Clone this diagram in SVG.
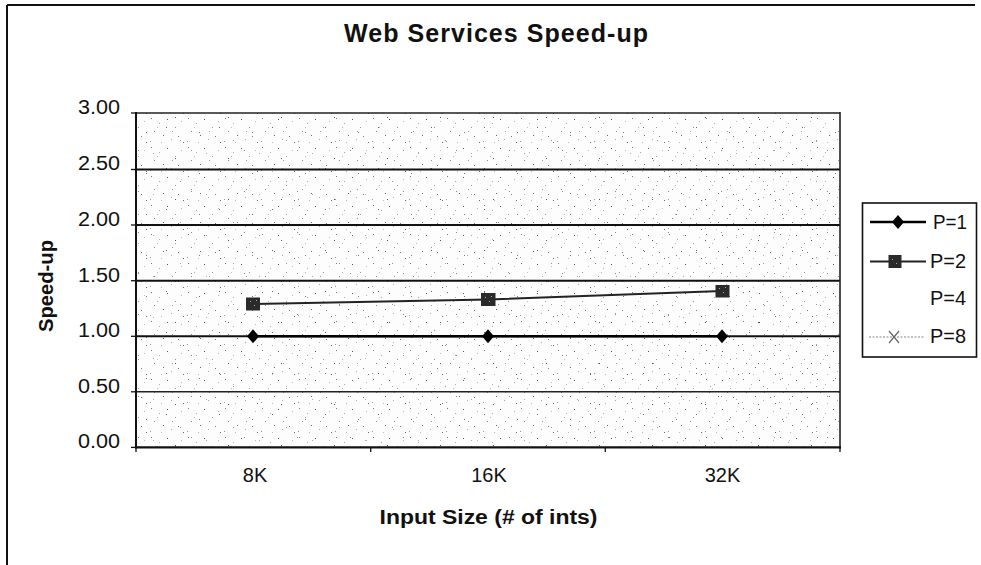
<svg xmlns="http://www.w3.org/2000/svg" width="981" height="565" viewBox="0 0 981 565">
  <style>
    text { font-family: "Liberation Sans", Arial, sans-serif; fill: #111; }
    .title { font-size: 25px; font-weight: bold; }
    .axis-title { font-size: 20px; font-weight: bold; }
    .tick { font-size: 20px; text-anchor: end; }
    .cat { font-size: 20px; text-anchor: middle; }
    .leg { font-size: 20px; }
    .grid { stroke: #111; stroke-width: 2; }
    .grid-thin { stroke: #222; stroke-width: 1.4; }
    .tickmark { stroke: #111; stroke-width: 1.3; }
    .s1 { stroke: #000; stroke-width: 2.6; fill: none; }
    .s2 { stroke: #222; stroke-width: 2; fill: none; }
    .s8 { stroke: #888; stroke-width: 1.2; stroke-dasharray: 2 1.5; fill: none; }
  </style>
  <defs>
    <!-- stippled grey fill of the plot area -->
    <pattern id="stipple" width="37" height="29" patternUnits="userSpaceOnUse">
      <rect width="37" height="29" fill="#fdfdfd"/>
      <rect x="3" y="2" width="1" height="1" fill="#777"/>
      <rect x="11" y="7" width="1" height="1" fill="#aaa"/>
      <rect x="19" y="3" width="1" height="1" fill="#555"/>
      <rect x="27" y="11" width="1" height="1" fill="#999"/>
      <rect x="33" y="5" width="1" height="1" fill="#bbb"/>
      <rect x="6" y="15" width="1" height="1" fill="#888"/>
      <rect x="15" y="19" width="1" height="1" fill="#666"/>
      <rect x="23" y="23" width="1" height="1" fill="#aaa"/>
      <rect x="30" y="20" width="1" height="1" fill="#777"/>
      <rect x="2" y="25" width="1" height="1" fill="#999"/>
      <rect x="13" y="26" width="1" height="1" fill="#bbb"/>
      <rect x="35" y="26" width="1" height="1" fill="#666"/>
      <rect x="9" y="11" width="1" height="1" fill="#bbb"/>
      <rect x="24" y="15" width="1" height="1" fill="#999"/>
    </pattern>
    <pattern id="stipple2" width="53" height="41" patternUnits="userSpaceOnUse">
      <rect x="7" y="4" width="1" height="1" fill="#666"/>
      <rect x="21" y="17" width="1" height="1" fill="#999"/>
      <rect x="40" y="9" width="1" height="1" fill="#777"/>
      <rect x="47" y="30" width="1" height="1" fill="#aaa"/>
      <rect x="16" y="35" width="1" height="1" fill="#555"/>
      <rect x="32" y="27" width="1" height="1" fill="#888"/>
    </pattern>
    <path id="diamond" d="M0,-7 L6,0 L0,7 L-6,0 Z" fill="#000"/>
  </defs>

  <!-- chart frame -->
  <g id="frame" stroke="#111" stroke-width="2" fill="none">
    <line x1="7" y1="5" x2="975" y2="5"/>
    <line x1="7" y1="5" x2="7" y2="565"/>
  </g>

  <g id="title">
    <text class="title" x="496" y="42" text-anchor="middle" textLength="304" lengthAdjust="spacing">Web Services Speed-up</text>
  </g>

  <!-- plot area -->
  <g id="plot-area">
    <rect x="136" y="113" width="704" height="334.4" fill="url(#stipple)"/>
    <rect x="136" y="113" width="704" height="334.4" fill="url(#stipple2)"/>
  </g>

  <!-- horizontal gridlines -->
  <g id="gridlines">
    <line class="grid-thin" x1="136" y1="113" x2="840" y2="113"/>
    <line class="grid" x1="136" y1="169.5" x2="840" y2="169.5"/>
    <line class="grid" x1="136" y1="225" x2="840" y2="225"/>
    <line class="grid" x1="136" y1="280.7" x2="840" y2="280.7"/>
    <line class="grid" x1="136" y1="336.3" x2="840" y2="336.3"/>
    <line class="grid-thin" x1="136" y1="391.8" x2="840" y2="391.8"/>
  </g>

  <!-- axes -->
  <g id="axes">
    <line x1="136" y1="112" x2="136" y2="448.5" stroke="#111" stroke-width="2"/>
    <line x1="840" y1="112" x2="840" y2="448.5" stroke="#222" stroke-width="1.6"/>
    <line x1="135" y1="447.4" x2="841" y2="447.4" stroke="#111" stroke-width="2.2"/>
    <g class="tickmark">
      <line x1="131" y1="113" x2="136" y2="113"/>
      <line x1="131" y1="169.5" x2="136" y2="169.5"/>
      <line x1="131" y1="225" x2="136" y2="225"/>
      <line x1="131" y1="280.7" x2="136" y2="280.7"/>
      <line x1="131" y1="336.3" x2="136" y2="336.3"/>
      <line x1="131" y1="391.8" x2="136" y2="391.8"/>
      <line x1="131" y1="447.4" x2="136" y2="447.4"/>
      <line x1="136" y1="447.4" x2="136" y2="452"/>
      <line x1="370.7" y1="447.4" x2="370.7" y2="452"/>
      <line x1="605.3" y1="447.4" x2="605.3" y2="452"/>
      <line x1="840" y1="447.4" x2="840" y2="452"/>
    </g>
  </g>

  <!-- value axis labels -->
  <g id="y-labels">
    <text class="tick" x="120" y="114" textLength="42" lengthAdjust="spacingAndGlyphs">3.00</text>
    <text class="tick" x="120" y="170" textLength="42" lengthAdjust="spacingAndGlyphs">2.50</text>
    <text class="tick" x="120" y="226" textLength="42" lengthAdjust="spacingAndGlyphs">2.00</text>
    <text class="tick" x="120" y="281.5" textLength="42" lengthAdjust="spacingAndGlyphs">1.50</text>
    <text class="tick" x="120" y="337" textLength="42" lengthAdjust="spacingAndGlyphs">1.00</text>
    <text class="tick" x="120" y="392.5" textLength="42" lengthAdjust="spacingAndGlyphs">0.50</text>
    <text class="tick" x="120" y="448" textLength="42" lengthAdjust="spacingAndGlyphs">0.00</text>
  </g>

  <!-- category axis labels -->
  <g id="x-labels">
    <text class="cat" x="255" y="482">8K</text>
    <text class="cat" x="489" y="482">16K</text>
    <text class="cat" x="722.5" y="482">32K</text>
  </g>

  <g id="axis-titles">
    <text class="axis-title" x="488.5" y="524" text-anchor="middle" textLength="218" lengthAdjust="spacingAndGlyphs">Input Size (# of ints)</text>
    <text class="axis-title" transform="translate(53,286) rotate(-90)" x="0" y="0" text-anchor="middle" textLength="92" lengthAdjust="spacingAndGlyphs">Speed-up</text>
  </g>

  <!-- data series -->
  <g id="series-p1">
    <polyline class="s1" points="253,336.3 488,336.3 722,336.3"/>
    <use href="#diamond" x="253" y="336.3"/>
    <use href="#diamond" x="488" y="336.3"/>
    <use href="#diamond" x="722" y="336.3"/>
  </g>
  <g id="series-p2">
    <polyline class="s2" points="253,304 488,299.5 722,291"/>
    <rect x="246" y="297.5" width="14" height="13" fill="#2a2a2a"/>
    <rect x="481" y="293" width="14.5" height="13" fill="#2a2a2a"/>
    <rect x="715.5" y="285" width="14" height="12.5" fill="#2a2a2a"/>
    <g fill="#aaa">
      <rect x="250" y="301" width="1" height="1"/><rect x="254" y="305" width="1" height="1"/><rect x="256" y="300" width="1" height="1"/>
      <rect x="485" y="297" width="1" height="1"/><rect x="489" y="301" width="1" height="1"/><rect x="491" y="296" width="1" height="1"/>
      <rect x="719" y="288" width="1" height="1"/><rect x="723" y="292" width="1" height="1"/><rect x="725" y="287" width="1" height="1"/>
    </g>
  </g>

  <!-- legend -->
  <g id="legend">
    <rect x="862.5" y="203" width="114" height="154" fill="#fff" stroke="#111" stroke-width="1.6"/>
    <g id="legend-p1">
      <line class="s1" x1="870" y1="222" x2="926" y2="222"/>
      <use href="#diamond" x="898" y="222"/>
      <text class="leg" x="933" y="229" textLength="34" lengthAdjust="spacingAndGlyphs">P=1</text>
    </g>
    <g id="legend-p2">
      <line class="s2" x1="870" y1="261.5" x2="926" y2="261.5"/>
      <rect x="888.5" y="255" width="13" height="13" fill="#2a2a2a"/>
      <rect x="892" y="259" width="1" height="1" fill="#aaa"/><rect x="896" y="263" width="1" height="1" fill="#aaa"/>
      <text class="leg" x="930" y="268" textLength="36" lengthAdjust="spacingAndGlyphs">P=2</text>
    </g>
    <g id="legend-p4">
      <text class="leg" x="930" y="305" textLength="36" lengthAdjust="spacingAndGlyphs">P=4</text>
    </g>
    <g id="legend-p8">
      <line class="s8" x1="869" y1="337" x2="925" y2="337"/>
      <path d="M889,331 L899,343 M899,331 L889,343" stroke="#666" stroke-width="1.2" fill="none"/>
      <text class="leg" x="930" y="343" textLength="36" lengthAdjust="spacingAndGlyphs">P=8</text>
    </g>
  </g>
</svg>
